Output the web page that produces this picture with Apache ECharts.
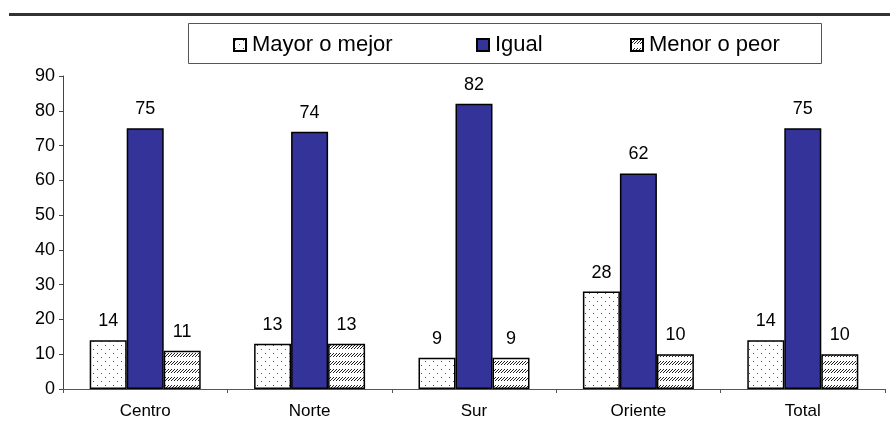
<!DOCTYPE html>
<html>
<head>
<meta charset="utf-8">
<script src="https://cdn.jsdelivr.net/npm/echarts@6/dist/echarts.min.js"></script>
<style>
  html,body{margin:0;padding:0;background:#fff;}
  #chart{width:890px;height:428px;}
</style>
</head>
<body>
<div id="chart"></div>
<script>
var categories = ['Centro', 'Norte', 'Sur', 'Oriente', 'Total'];
var seriesNames = ['Mayor o mejor', 'Igual', 'Menor o peor'];
var mayorData = [14, 13, 9, 28, 14];
var igualData = [75, 74, 82, 62, 75];
var menorData = [11, 13, 9, 10, 10];

// dotted fill
function dotPattern(){
  var c = document.createElement('canvas');
  c.width = 8; c.height = 8;
  var ctx = c.getContext('2d');
  ctx.fillStyle = '#fff';
  ctx.fillRect(0, 0, 8, 8);
  ctx.fillStyle = '#555';
  ctx.fillRect(1, 1, 1, 1);
  ctx.fillRect(5, 5, 1, 1);
  return c;
}
// rows of short diagonal strokes, white band between rows
function hatchPattern(){
  var c = document.createElement('canvas');
  c.width = 6; c.height = 8;
  var ctx = c.getContext('2d');
  ctx.fillStyle = '#fff';
  ctx.fillRect(0, 0, 6, 8);
  ctx.fillStyle = '#222';
  for (var x0 = 0; x0 < 6; x0 += 3) {
    for (var k = 0; k < 4; k++) {
      ctx.fillRect((x0 + k) % 6, 4 - k, 1, 1);
    }
  }
  return c;
}

var font = 'Liberation Sans, Arial, sans-serif';
var chart = echarts.init(document.getElementById('chart'));

var labelOpt = {
  show: true,
  position: 'top',
  distance: 10,
  color: '#000',
  fontSize: 18,
  fontFamily: font
};

// one legend per entry so each sits where the original put it
var legendLeft = [228, 471, 625];
var legends = seriesNames.map(function(name, i){
  return {
    data: [name],
    left: legendLeft[i],
    top: 29,
    itemWidth: 12,
    itemHeight: 12,
    icon: 'rect',
    textStyle: {fontSize: 22, fontFamily: font, color: '#000', padding: [0, 0, 0, 1]}
  };
});

var option = {
  animation: false,
  backgroundColor: '#fff',
  graphic: [
    {
      type: 'line',
      shape: {x1: 9, y1: 14.5, x2: 890, y2: 14.5},
      style: {stroke: '#333', lineWidth: 3}
    },
    {
      type: 'rect',
      shape: {x: 188.5, y: 23.5, width: 633, height: 40},
      style: {fill: '#fff', stroke: '#555', lineWidth: 1},
      z: -1
    }
  ],
  legend: legends,
  grid: {left: 63, right: 5, top: 76, bottom: 39},
  xAxis: {
    type: 'category',
    data: categories,
    axisLine: {lineStyle: {color: '#555', width: 1}},
    axisTick: {show: true, length: 4, lineStyle: {color: '#555'}},
    axisLabel: {color: '#000', fontSize: 17, fontFamily: font, margin: 14}
  },
  yAxis: {
    type: 'value',
    min: 0,
    max: 90,
    interval: 10,
    axisLine: {show: true, lineStyle: {color: '#444', width: 1}},
    axisTick: {show: true, length: 4, lineStyle: {color: '#444'}},
    splitLine: {show: false},
    axisLabel: {color: '#000', fontSize: 18, fontFamily: font, margin: 8}
  },
  series: [
    {
      name: seriesNames[0],
      type: 'bar',
      data: mayorData,
      barWidth: 37,
      barGap: '0%',
      itemStyle: {color: {image: dotPattern(), repeat: 'repeat'}, borderColor: '#000', borderWidth: 1.5},
      label: labelOpt
    },
    {
      name: seriesNames[1],
      type: 'bar',
      data: igualData,
      barWidth: 37,
      barGap: '0%',
      itemStyle: {color: '#333399', borderColor: '#000', borderWidth: 1.5},
      label: labelOpt
    },
    {
      name: seriesNames[2],
      type: 'bar',
      data: menorData,
      barWidth: 37,
      barGap: '0%',
      itemStyle: {color: {image: hatchPattern(), repeat: 'repeat'}, borderColor: '#000', borderWidth: 1.5},
      label: labelOpt
    }
  ]
};
chart.setOption(option);
</script>
</body>
</html>
